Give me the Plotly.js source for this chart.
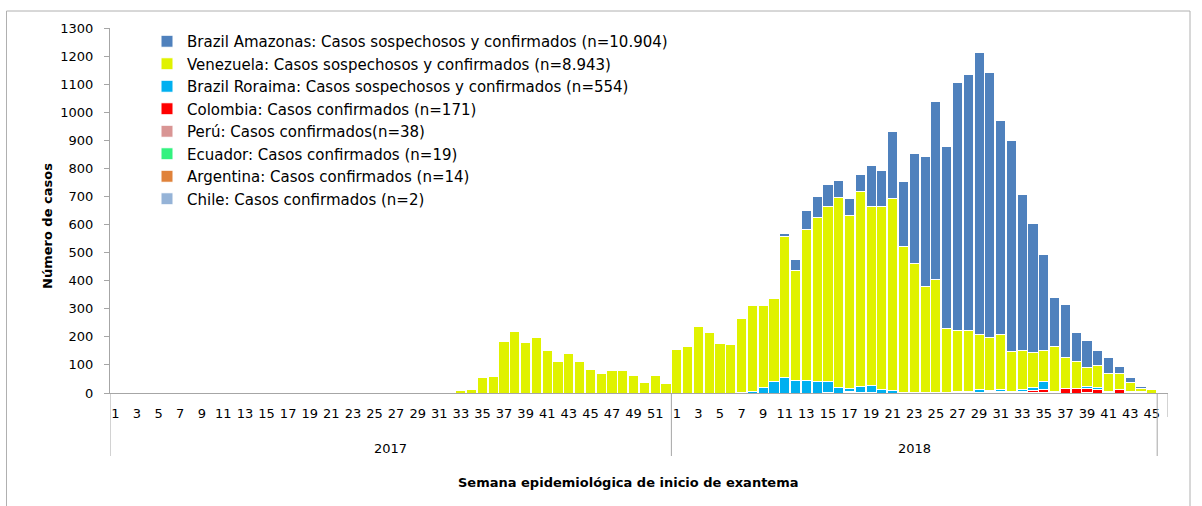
<!DOCTYPE html>
<html><head><meta charset="utf-8">
<script src="https://cdn.plot.ly/plotly-3.0.1.min.js"></script>
<style>html,body{margin:0;padding:0;background:#fff}#chart{width:1202px;height:506px}</style>
</head><body><div id="chart"></div>
<script>
// ---- Data ----
const years = ['2017', '2018'];
const weeks2017 = [1,2,3,4,5,6,7,8,9,10,11,12,13,14,15,16,17,18,19,20,21,22,23,24,25,26,27,28,29,30,31,32,33,34,35,36,37,38,39,40,41,42,43,44,45,46,47,48,49,50,51,52];
const weeks2018 = [1,2,3,4,5,6,7,8,9,10,11,12,13,14,15,16,17,18,19,20,21,22,23,24,25,26,27,28,29,30,31,32,33,34,35,36,37,38,39,40,41,42,43,44,45];

// values per week: 52 weeks of 2017 followed by 45 weeks of 2018
const chile = [
  0,0,0,0,0,0,0,0,0,0,0,0,0,0,0,0,0,0,0,0,0,0,0,0,0,0,0,0,0,0,0,0,0,0,0,0,0,0,0,0,0,0,0,0,0,0,0,0,0,0,0,0,
  0,0,0,0,0,0,0,0,0,0,0,0,0,0,0,0,0,0,0,0,0,0,0,0,0,0,0,0,1,0,0,0,0,0,0,0,0,0,1,0,0,0,0,0,0];
const argentina = [
  0,0,0,0,0,0,0,0,0,0,0,0,0,0,0,0,0,0,0,0,0,0,0,0,0,0,0,0,0,0,0,0,0,0,0,0,0,0,0,0,0,0,0,0,0,0,0,0,0,0,0,0,
  0,0,0,0,0,0,0,0,0,0,0,0,0,0,0,0,0,1,1,0,0,0,0,0,0,0,0,0,0,1,0,1,0,2,1,0,0,0,0,0,0,0,0,0,0];
const ecuador = [
  0,0,0,0,0,0,0,0,0,0,0,0,0,0,0,0,0,0,0,0,0,0,0,0,0,0,0,0,0,0,0,0,0,0,0,0,0,0,0,0,0,0,0,0,0,0,0,0,0,0,0,0,
  0,0,0,0,0,0,0,0,0,0,0,0,0,0,0,0,0,0,0,0,0,0,2,1,2,2,0,1,0,0,0,0,0,0,0,0,0,0,0,0,0,0,0,0,0];
const peru = [
  0,0,0,0,0,0,0,0,0,0,0,0,0,0,0,0,0,0,0,0,0,0,0,0,0,0,0,0,0,0,0,0,0,0,0,0,0,0,0,0,0,0,0,0,0,0,0,0,0,0,0,0,
  0,0,0,0,0,0,0,0,0,0,0,0,0,0,2,0,2,0,0,0,0,1,0,0,0,0,2,3,0,0,3,0,2,0,0,2,0,0,0,0,3,0,1,0,0];
const colombia = [
  0,0,0,0,0,0,0,0,0,0,0,0,0,0,0,0,0,0,0,0,0,0,0,0,0,0,0,0,0,0,0,0,0,0,0,0,0,0,0,0,0,0,0,0,0,0,0,0,0,0,0,0,
  0,0,0,0,0,0,0,0,0,0,0,0,0,0,1,0,2,0,0,0,0,0,0,0,0,0,2,0,0,5,3,0,3,7,12,3,15,15,15,12,3,13,3,2,0];
const roraima = [
  0,0,0,0,0,0,0,0,0,0,0,0,0,0,0,0,0,0,0,0,0,0,0,0,0,0,0,0,0,0,0,0,0,0,0,0,0,0,0,0,0,0,0,0,0,0,0,0,0,0,0,0,
  0,0,0,0,0,0,3,6,19,40,57,44,44,42,37,20,12,22,25,14,10,2,0,2,0,1,0,0,10,3,5,3,8,9,27,0,2,2,7,8,0,0,0,4,0];
const venezuela = [
  0,0,0,0,0,0,0,0,0,0,0,0,0,0,0,0,0,0,0,0,0,0,0,0,0,0,2,0,0,1,3,3,10,13,54,60,185,218,181,199,153,111,140,111,85,69,81,81,64,39,61,33,
  155,167,237,217,175,171,263,307,291,298,499,393,538,582,626,677,615,693,638,649,683,518,460,375,404,228,219,218,197,189,196,145,138,127,112,159,110,96,67,77,64,55,32,9,11];
const amazonas = [
  0,0,0,0,0,0,0,0,0,0,0,0,0,0,0,0,0,0,0,0,0,0,0,0,0,0,0,0,0,0,0,0,0,0,0,0,0,0,0,0,0,0,0,0,0,0,0,0,0,0,0,0,
  0,0,0,0,0,0,0,0,0,0,12,37,67,77,76,61,60,63,146,129,238,234,392,463,631,646,884,911,1004,944,765,750,555,458,342,175,189,102,96,53,55,26,19,9,0];

const seriesNames = [
  'Chile: Casos confirmados (n=2)',
  'Argentina: Casos confirmados (n=14)',
  'Ecuador: Casos confirmados (n=19)',
  'Perú: Casos confirmados(n=38)',
  'Colombia: Casos confirmados (n=171)',
  'Brazil Roraima: Casos sospechosos y confirmados (n=554)',
  'Venezuela: Casos sospechosos y confirmados (n=8.943)',
  'Brazil Amazonas: Casos sospechosos y confirmados (n=10.904)'
];
const seriesColors = ['#95B3D7', '#E0823A', '#33F27F', '#D99594', '#FF0000', '#00B0F0', '#E0F200', '#4F81BD'];
const seriesValues = [chile, argentina, ecuador, peru, colombia, roraima, venezuela, amazonas];

// ---- Build ----
const allWeeks = weeks2017.concat(weeks2018);
const xIdx = allWeeks.map((w, i) => i);
const tickvals = [], ticktext = [];
allWeeks.forEach((w, i) => { if (w % 2 === 1) { tickvals.push(i); ticktext.push(String(w)); } });

const traces = seriesValues.map((vals, k) => ({
  type: 'bar', x: xIdx, y: vals, name: seriesNames[k],
  marker: { color: seriesColors[k], line: { color: '#ffffff', width: 1 } },
  hoverinfo: 'y+name'
}));

const n17 = weeks2017.length, n18 = weeks2018.length;
const axisGray = '#a6a6a6';
const bottomDiv = (393 - 456) / 365;
const shapes = [
  { type: 'line', xref: 'x', yref: 'paper', x0: -0.5, x1: -0.5, y0: 0, y1: bottomDiv, line: { color: axisGray, width: 1 } },
  { type: 'line', xref: 'x', yref: 'paper', x0: n17 - 0.5, x1: n17 - 0.5, y0: 0, y1: bottomDiv, line: { color: axisGray, width: 1 } },
  { type: 'line', xref: 'x', yref: 'paper', x0: n17 + n18 - 0.5, x1: n17 + n18 - 0.5, y0: 0, y1: bottomDiv, line: { color: axisGray, width: 1 } },
  { type: 'line', xref: 'x', yref: 'paper', x0: n17 + n18 + 0.5, x1: n17 + n18 + 0.5, y0: 0, y1: (393 - 417) / 365, line: { color: axisGray, width: 1 } },
  { type: 'rect', xref: 'paper', yref: 'paper', x0: (6.5 - 110) / 1058, x1: (1190 - 110) / 1058, y0: (393 - 520) / 365, y1: (393 - 11) / 365, line: { color: '#b0b0b0', width: 1 }, fillcolor: 'rgba(0,0,0,0)', layer: 'below' }
];

const annotations = [
  { xref: 'x', yref: 'paper', x: (n17 - 1) / 2, y: (393 - 448) / 365, text: years[0], showarrow: false, font: { size: 13 }, yanchor: 'middle' },
  { xref: 'x', yref: 'paper', x: n17 + (n18 - 1) / 2, y: (393 - 448) / 365, text: years[1], showarrow: false, font: { size: 13 }, yanchor: 'middle' },
  { xref: 'paper', yref: 'paper', x: (628 - 110) / 1058, y: (393 - 482) / 365, text: '<b>Semana epidemiológica de inicio de exantema</b>', showarrow: false, font: { size: 13 }, yanchor: 'middle' },
  { xref: 'paper', yref: 'paper', x: (47 - 110) / 1058, y: (393 - 226) / 365, text: '<b>Número de casos</b>', textangle: -90, showarrow: false, font: { size: 13 }, xanchor: 'center', yanchor: 'middle' }
];

const layout = {
  width: 1202, height: 506,
  margin: { l: 110, r: 34, t: 28, b: 113 },
  paper_bgcolor: '#ffffff', plot_bgcolor: '#ffffff',
  barmode: 'stack', bargap: 0.06,
  font: { family: 'DejaVu Sans, sans-serif', size: 13, color: '#000000' },
  xaxis: {
    range: [-0.5, n17 + n18 + 0.5], tickmode: 'array', tickvals: tickvals, ticktext: ticktext,
    ticks: '', showline: true, linecolor: axisGray, linewidth: 1, showgrid: false, zeroline: false,
    tickfont: { size: 13 }, ticklabelstandoff: 8, fixedrange: true
  },
  yaxis: {
    range: [0, 1300], dtick: 100, tick0: 0, ticks: 'outside', ticklen: 5, tickcolor: axisGray,
    showline: true, linecolor: axisGray, linewidth: 1, showgrid: false, zeroline: false,
    tickfont: { size: 13 }, ticklabelstandoff: 8, fixedrange: true
  },
  legend: {
    x: (147 - 110) / 1058, y: (393 - 25) / 365, xanchor: 'left', yanchor: 'top',
    traceorder: 'reversed', bgcolor: 'rgba(0,0,0,0)', font: { size: 15 }
  },
  showlegend: true,
  shapes: shapes, annotations: annotations
};

Plotly.newPlot('chart', traces, layout, { displayModeBar: false, staticPlot: true });
</script>
</body></html>
